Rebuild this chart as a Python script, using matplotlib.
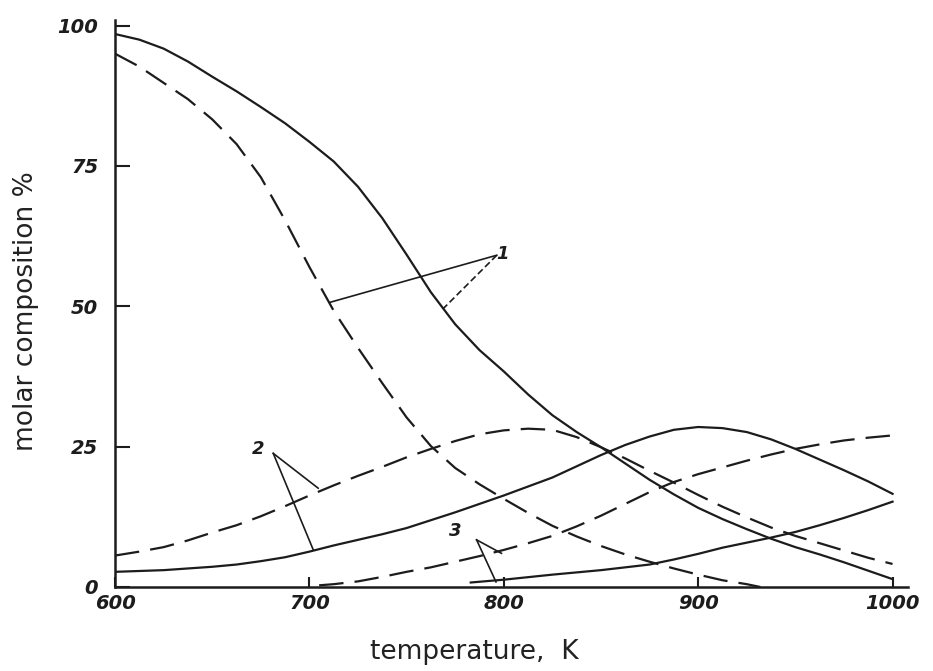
import matplotlib.pyplot as plt

# temperatura [K], udział molowy [%]
T_s1 = [600, 612.5, 625, 637.5, 650, 662.5, 675, 687.5, 700, 712.5, 725, 737.5, 750, 762.5, 775,
        787.5, 800, 812.5, 825, 837.5, 850, 862.5, 875, 887.5, 900, 912.5, 925, 937.5, 950,
        962.5, 975, 987.5, 1000]
s1 = [98.5, 97.5, 95.9, 93.6, 90.9, 88.3, 85.5, 82.6, 79.3, 75.8, 71.3, 65.7, 59.2, 52.5, 46.8,
      42.2, 38.4, 34.3, 30.6, 27.6, 24.9, 22.0, 19.1, 16.5, 14.1, 12.1, 10.3, 8.6, 7.1,
      5.8, 4.4, 2.9, 1.4]

T_d1 = [600, 612.5, 625, 637.5, 650, 662.5, 675, 687.5, 700, 712.5, 725, 737.5, 750, 762.5, 775,
        787.5, 800, 812.5, 825, 837.5, 850, 862.5, 875, 887.5, 900, 912.5, 925, 932]
d1 = [95.0, 92.7, 89.8, 86.9, 83.3, 78.9, 73.0, 65.3, 57.0, 49.2, 42.6, 36.3, 30.2, 25.1, 21.2,
      18.3, 15.7, 13.2, 10.9, 9.0, 7.3, 5.8, 4.5, 3.3, 2.2, 1.2, 0.5, 0.0]

T_s2 = [600, 625, 650, 662.5, 675, 687.5, 700, 712.5, 725, 737.5, 750, 762.5, 775, 787.5, 800,
        812.5, 825, 837.5, 850, 862.5, 875, 887.5, 900, 912.5, 925, 937.5, 950, 962.5, 975,
        987.5, 1000]
s2 = [2.7, 3.0, 3.6, 4.0, 4.6, 5.3, 6.3, 7.4, 8.4, 9.4, 10.5, 11.9, 13.3, 14.8, 16.3,
      17.9, 19.5, 21.5, 23.5, 25.3, 26.8, 28.0, 28.5, 28.3, 27.6, 26.3, 24.6, 22.7, 20.8,
      18.8, 16.6]

T_d2 = [600, 612.5, 625, 637.5, 650, 662.5, 675, 687.5, 700, 712.5, 725, 737.5, 750, 762.5, 775,
        787.5, 800, 812.5, 825, 837.5, 850, 862.5, 875, 887.5, 900, 912.5, 925, 937.5, 950,
        962.5, 975, 987.5, 1000]
d2 = [5.6, 6.3, 7.1, 8.3, 9.7, 11.0, 12.6, 14.4, 16.3, 18.1, 19.8, 21.4, 23.1, 24.6, 26.0,
      27.2, 27.9, 28.2, 28.0, 26.7, 24.9, 22.9, 20.7, 18.6, 16.4, 14.3, 12.4, 10.6, 9.1,
      7.8, 6.5, 5.2, 4.1]

T_s3 = [783, 800, 825, 850, 862.5, 875, 887.5, 900, 912.5, 925, 937.5, 950, 962.5, 975, 987.5, 1000]
s3 = [0.8, 1.3, 2.2, 3.0, 3.5, 4.0, 4.9, 5.9, 7.0, 7.9, 8.8, 9.8, 11.0, 12.3, 13.7, 15.2]

T_d3 = [705, 712.5, 725, 737.5, 750, 762.5, 775, 787.5, 800, 812.5, 825, 837.5, 850, 862.5, 875,
        887.5, 900, 912.5, 925, 937.5, 950, 962.5, 975, 987.5, 1000]
d3 = [0.3, 0.5, 1.0, 1.8, 2.7, 3.5, 4.5, 5.5, 6.6, 7.8, 9.1, 10.8, 12.7, 14.8, 16.9,
      18.7, 20.1, 21.3, 22.5, 23.6, 24.6, 25.4, 26.1, 26.6, 27.0]

# etykiety krzywych: tekst, (x, y) tekstu, początek kreski, końce kreski
LABELS = [
    ('1', (799.5, 59.4), (796.4, 59.1), [(710.5, 50.7), (768.6, 49.5)]),
    ('2', (673.5, 24.6), (681.4, 23.8), [(704.5, 17.6), (702.0, 6.6)]),
    ('3', (774.8, 9.9), (786.0, 8.4), [(798.8, 6.0), (796.0, 0.9)]),
]

X_TICKS = [600, 700, 800, 900, 1000]
Y_TICKS = [0, 25, 50, 75, 100]

INK = '#1c1c1c'
DASH = (0, (11, 5))

fig = plt.figure(figsize=(9.33, 6.71), dpi=100)
ax = fig.add_axes([0.1233, 0.1252, 0.85, 0.845])

ax.plot(T_s1, s1, c=INK, lw=1.6)
ax.plot(T_d1, d1, c=INK, lw=1.6, ls=DASH)
ax.plot(T_s2, s2, c=INK, lw=1.6)
ax.plot(T_d2, d2, c=INK, lw=1.6, ls=DASH)
ax.plot(T_s3, s3, c=INK, lw=1.6)
ax.plot(T_d3, d3, c=INK, lw=1.6, ls=DASH)

for txt, pos, start, ends in LABELS:
    ax.text(pos[0], pos[1], txt, fontsize=13, style='italic', weight='bold',
            color=INK, ha='center', va='center')
    for nr, end in enumerate(ends):
        ax.plot([start[0], end[0]], [start[1], end[1]], c=INK, lw=1.2,
                ls='-' if not (txt == '1' and nr == 1) else (0, (4, 2)))

ax.set_xlim(600, 1008)
ax.set_ylim(0, 101)
ax.set_xticks(X_TICKS)
ax.set_yticks(Y_TICKS)
ax.set_xticklabels([str(i) for i in X_TICKS], fontsize=14, style='italic', weight='bold', color='#333333')
ax.set_yticklabels([str(i) for i in Y_TICKS], fontsize=14, style='italic', weight='bold', color='#333333')

ax.spines['top'].set_visible(False)
ax.spines['right'].set_visible(False)
ax.spines['left'].set_linewidth(1.8)
ax.spines['bottom'].set_linewidth(1.8)
ax.spines['left'].set_color(INK)
ax.spines['bottom'].set_color(INK)
ax.tick_params(axis='y', direction='in', length=11, width=1.5, pad=12, colors=INK)
ax.tick_params(axis='x', direction='in', length=7, width=1.5, pad=5, colors=INK)

fig.text(0.028, 0.5365, 'molar composition %', rotation=90, fontsize=19,
         ha='center', va='center', color='#222222')
fig.text(0.5085, 0.028, 'temperature,  K', fontsize=19, ha='center', va='center', color='#222222')

fig.savefig('out.png')
